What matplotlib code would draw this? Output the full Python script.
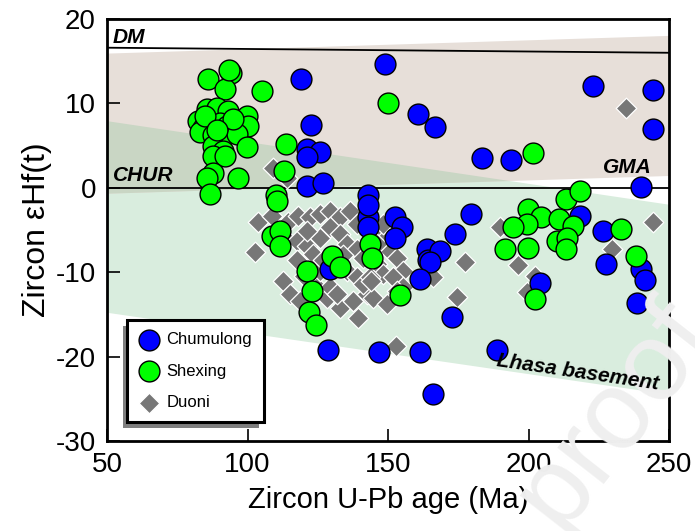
import matplotlib
matplotlib.use("Agg")
import matplotlib.pyplot as plt
from matplotlib.patches import Polygon, Rectangle
import numpy as np

plt.rcParams['font.family'] = ['Liberation Sans', 'DejaVu Sans']
plt.rcParams['axes.unicode_minus'] = False

# Chumulong zircons (age in Ma, eHf(t))
chumulong_age = [119, 149, 223, 244.4, 244.4, 160.6, 166.7, 183.6, 193.8, 122.6,
                 121.1, 125.8, 121.1, 121.1, 126.8, 143, 240, 143, 143, 143,
                 152.5, 154.8, 152.5, 163.7, 164.3, 168.5, 164.9, 161.4, 129.4, 179.7,
                 173.8, 218.3, 226.6, 227.6, 240, 241.4, 238.5, 204.1, 172.7, 128.5,
                 146.8, 161.4, 188.7, 165.9]
chumulong_ehf = [12.9, 14.7, 12.1, 11.6, 7.0, 8.7, 7.2, 3.5, 3.3, 7.5,
                 4.6, 4.3, 3.6, 0.2, 0.6, -0.8, 0.1, -3.5, -4.7, -2.0,
                 -3.5, -4.6, -5.9, -7.3, -8.6, -7.5, -8.8, -10.8, -9.6, -3.1,
                 -5.5, -3.4, -5.1, -9.0, -9.6, -10.9, -13.6, -11.3, -15.3, -19.2,
                 -19.5, -19.4, -19.2, -24.4]

# Shexing zircons
shexing_age = [94.1, 85.9, 92.0, 105.2, 150.0, 85.5, 89.0, 93.2, 99.7, 82.5,
               84.3, 86.7, 90.2, 92.6, 96.2, 100.3, 83.1, 87.8, 91.4, 96.2,
               87.8, 91.4, 99.7, 87.8, 92.0, 87.8, 96.7, 85.5, 86.7, 84.9,
               94.9, 89.0, 113.7, 113.1, 110.2, 110.4, 108.6, 111.6, 111.6, 129.9,
               132.9, 121.3, 122.8, 122.0, 124.2, 143.6, 144.2, 154.3, 201.5, 199.9,
               204.3, 199.3, 194.6, 213.2, 218.3, 210.9, 215.7, 210.0, 213.8, 213.3,
               191.8, 199.9, 202.3, 232.8, 238.1, 93.5]
shexing_ehf = [13.6, 12.9, 11.7, 11.5, 10.1, 9.3, 9.5, 9.1, 8.5, 7.9,
               7.1, 7.7, 7.7, 7.3, 7.1, 7.3, 6.6, 6.2, 6.0, 6.4,
               5.0, 4.4, 4.8, 3.8, 3.8, 1.8, 1.2, 1.2, -0.7, 8.5,
               8.1, 6.8, 5.2, 2.0, -0.8, -1.6, -5.7, -5.1, -6.9, -8.1,
               -9.4, -9.8, -12.2, -14.7, -16.2, -6.7, -8.3, -12.7, 4.1, -2.5,
               -3.5, -4.3, -4.7, -1.3, -0.4, -3.7, -4.5, -6.3, -5.9, -7.3,
               -7.3, -7.1, -13.2, -4.9, -8.1, 13.9]

# Duoni zircons
duoni_age = [109.2, 113.9, 103.9, 102.7, 108.6, 114.5, 113.3, 118.1, 122.2, 125.8,
             129.4, 132.9, 136.5, 138.8, 146.0, 148.3, 150.7, 153.1, 155.5, 117.5,
             121.1, 123.4, 125.8, 129.4, 132.9, 135.3, 138.8, 141.2, 146.0, 148.3,
             151.9, 155.5, 112.7, 115.1, 118.7, 124.6, 128.2, 132.9, 137.7, 139.4,
             142.4, 144.8, 149.5, 153.1, 135.3, 138.8, 141.2, 125.8, 129.4, 131.7,
             117.5, 146.0, 121.1, 148.3, 143.6, 189.8, 177.4, 174.4, 196.4, 202.3,
             199.3, 229.6, 244.4, 166.1, 152.7, 234.6, 127.0, 134.0, 120.0, 144.0]
duoni_ehf = [2.3, 1.2, -4.1, -7.6, -3.3, -4.1, -5.9, -3.3, -3.5, -3.1,
             -2.7, -3.5, -2.7, -4.3, -5.1, -6.3, -7.5, -8.3, -9.8, -6.3,
             -6.9, -7.9, -5.9, -4.7, -5.5, -6.7, -7.3, -8.3, -9.0, -10.2,
             -10.6, -11.8, -11.0, -12.6, -13.4, -11.8, -13.0, -14.2, -13.4, -15.4,
             -12.6, -13.0, -13.8, -12.2, -9.8, -10.6, -11.4, -9.8, -11.8, -12.6,
             -8.6, -6.7, -5.1, -4.3, -10.6, -4.7, -8.8, -12.9, -9.2, -10.5,
             -12.3, -7.3, -4.1, -10.6, -18.7, 9.5, -8.5, -8.0, -10.5, -11.0]

# reference curves / fields (end points at 50 and 250 Ma)
edge_age = [50, 250]
dm_ehf = [16.6, 16.0]
gma_top = [15.9, 18.0]
gma_bottom = [-0.7, 1.4]
lhasa_top = [7.9, -2.0]
lhasa_bottom = [-14.8, -24.5]

fig = plt.figure(figsize=(6.95, 5.31), dpi=100)
ax = fig.add_axes([0.154, 0.1695, 0.8086, 0.7947])

x0, x1 = edge_age
# Lhasa basement field
ax.add_patch(Polygon([(x0, lhasa_top[0]), (x1, lhasa_top[1]),
                      (x1, lhasa_bottom[1]), (x0, lhasa_bottom[0])],
                     closed=True, facecolor='#d9edde', edgecolor='none', zorder=0))
# GMA field
ax.add_patch(Polygon([(x0, gma_top[0]), (x1, gma_top[1]),
                      (x1, gma_bottom[1]), (x0, gma_bottom[0])],
                     closed=True, facecolor='#e7dfd9', edgecolor='none', zorder=0))
# overlap of the two fields
st = (lhasa_top[1] - lhasa_top[0]) / (x1 - x0)
sb = (gma_bottom[1] - gma_bottom[0]) / (x1 - x0)
xc = x0 + (lhasa_top[0] - gma_bottom[0]) / (sb - st)
yc = gma_bottom[0] + sb * (xc - x0)
ax.add_patch(Polygon([(x0, lhasa_top[0]), (xc, yc), (x0, gma_bottom[0])],
                     closed=True, facecolor='#c9d6c4', edgecolor='none', zorder=0.5))

ax.plot(edge_age, dm_ehf, color='black', lw=1.3, zorder=1)
ax.axhline(0, color='black', lw=1.3, zorder=1)

ax.scatter(duoni_age, duoni_ehf, marker='D', s=110, c='#777777',
           edgecolors='white', linewidths=0.9, zorder=2, label='Duoni')
ax.scatter(chumulong_age, chumulong_ehf, marker='o', s=225, c='#0000ff',
           edgecolors='black', linewidths=1.0, zorder=3, label='Chumulong')
ax.scatter(shexing_age, shexing_ehf, marker='o', s=225, c='#00ff00',
           edgecolors='black', linewidths=1.0, zorder=3.5, label='Shexing')

# faint watermark, kept under the field labels
ax.text(0.885, 0.22, 'proof', transform=fig.transFigure, fontsize=80,
        color='#efefef', rotation=52, ha='center', va='center',
        zorder=3.8, clip_on=False)

# field labels
lab = dict(fontsize=15, fontweight='bold', fontstyle='italic', color='black', zorder=4)
ax.text(52, 17.2, 'DM', ha='left', va='baseline', **lab)
ax.text(52, 0.8, 'CHUR', ha='left', va='baseline', **lab)
ax.text(226.5, 1.8, 'GMA', ha='left', va='baseline', **lab)
ax.text(217.5, -21.9, 'Lhasa basement', ha='center', va='center', rotation=-8.3,
        rotation_mode='anchor', **lab)

ax.set_xlim(50, 250)
ax.set_ylim(-30, 20)
ax.set_xticks([50, 100, 150, 200, 250])
ax.set_yticks([-30, -20, -10, 0, 10, 20])
ax.tick_params(direction='in', length=9, width=1.2, labelsize=20, pad=8,
               top=False, right=False)
for sp in ax.spines.values():
    sp.set_linewidth(2)
ax.set_xlabel('Zircon U-Pb age (Ma)', fontsize=21, labelpad=6)
ax.set_ylabel('Zircon εHf(t)', fontsize=23, labelpad=3)

h, l = ax.get_legend_handles_labels()
order = [l.index('Chumulong'), l.index('Shexing'), l.index('Duoni')]
leg = ax.legend([h[i] for i in order], [l[i] for i in order],
                loc='lower left', bbox_to_anchor=(0.036, 0.045), borderaxespad=0,
                fontsize=12, frameon=True, fancybox=False, framealpha=1,
                edgecolor='black', labelspacing=1.0, handlelength=1.2,
                handletextpad=0.45, borderpad=0.7, scatterpoints=1)
leg.get_frame().set_linewidth(2.2)
leg.set_zorder(6)

# grey drop shadow behind the legend box
fig.canvas.draw()
bb = leg.get_window_extent().transformed(ax.transAxes.inverted())
ax.add_patch(Rectangle((bb.x0 - 0.008, bb.y0 - 0.014), bb.width, bb.height,
                       transform=ax.transAxes, facecolor='#7f7f7f',
                       edgecolor='none', zorder=5.5))

fig.savefig('out.png', dpi=100)
